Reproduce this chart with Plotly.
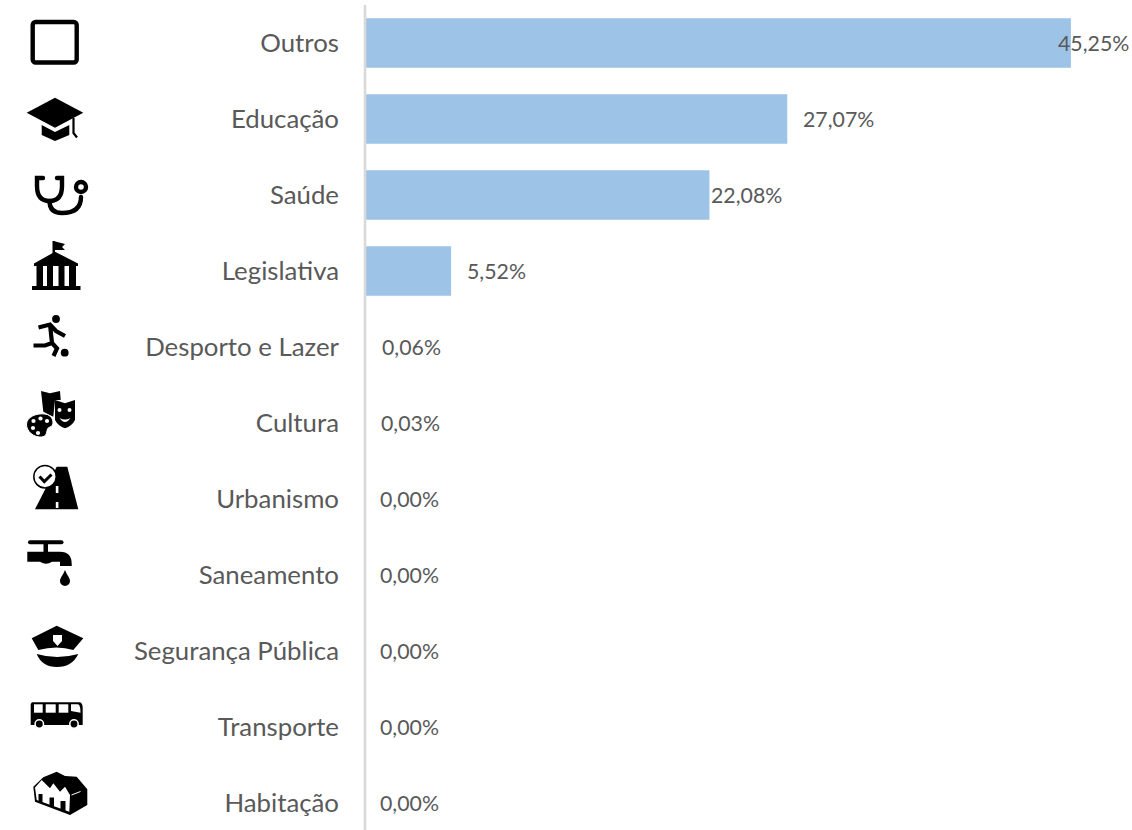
import base64
import plotly.graph_objects as go

categories = ["Outros", "Educação", "Saúde", "Legislativa", "Desporto e Lazer", "Cultura",
              "Urbanismo", "Saneamento", "Segurança Pública", "Transporte", "Habitação"]
values = [45.25, 27.07, 22.08, 5.52, 0.06, 0.03, 0.00, 0.00, 0.00, 0.00, 0.00]
value_labels = ["45,25%", "27,07%", "22,08%", "5,52%", "0,06%", "0,03%",
                "0,00%", "0,00%", "0,00%", "0,00%", "0,00%"]
label_shifts = [-13, 16, 2, 16, 16, 16, 15, 15, 15, 15, 15]

W, H = 1132, 830
ML, MT = 365, 5
PW, PH = W - ML, H - MT

TEXT = "#595959"
BAR = "#9DC3E6"
AXIS = "#D9D9D9"

icons_svg = f'''<svg xmlns="http://www.w3.org/2000/svg" width="{W}" height="{H}" viewBox="0 0 {W} {H}">
<!-- Outros -->
<rect x="32.7" y="22" width="44" height="40.5" rx="3" fill="none" stroke="#000" stroke-width="4.4"/>
<!-- Educacao -->
<path d="M26.7,112.7 L55,97.7 L83.3,112.7 L55,127.7 Z"/>
<path d="M41.7,125 L55,132 L69.3,125 V135 L55,141 L41.7,135 Z"/>
<path d="M73.5,118 V133 L77,137.5" fill="none" stroke="#000" stroke-width="2.2"/>
<!-- Saude -->
<g fill="none" stroke="#000" stroke-width="4.4" stroke-linecap="round">
<path d="M43,178 H37 V186 Q37,201 49.5,201 Q62,201 62,186 V178 H57"/>
<path d="M49.5,201 Q49.5,213 62,213 Q81,213 81,197"/>
<circle cx="81" cy="187" r="5"/>
</g>
<!-- Legislativa -->
<rect x="52.5" y="241" width="2.5" height="15"/>
<path d="M53.5,241 L65,244 L62,247 L65,250 L53.5,250 Z"/>
<path d="M34,263.5 L55,251.7 L78,263.5 V266 H34 Z"/>
<rect x="36.5" y="266" width="6.5" height="20"/><rect x="47" y="266" width="6" height="20"/>
<rect x="58.5" y="266" width="6" height="20"/><rect x="69" y="266" width="7" height="20"/>
<rect x="32" y="286" width="48.5" height="4"/>
<!-- Desporto -->
<circle cx="56" cy="319" r="3.9"/><circle cx="64.7" cy="352.7" r="3.9"/>
<path d="M38.5,327.5 L50,324.5 L56,331 L65,336 M50,324.5 L52,343 M52,343 L45,345.5 H33.5 M52,343 L57,348.5 L53.5,356" fill="none" stroke="#000" stroke-width="4.2"/>
<!-- Cultura -->
<path d="M41,391 L50,393.3 L60,391 L60.7,400 L55,400 L53.3,416.7 L43.3,411.7 Z"/>
<path d="M55,400 L65,403.3 L75,400 V420 Q72,426 65,428.3 Q58,426 55,420 Z"/>
<circle cx="59.5" cy="410" r="2" fill="#fff"/><circle cx="69.5" cy="410" r="2" fill="#fff"/>
<path d="M59.5,418 Q65,421 70.5,418 Q65,426 59.5,418 Z" fill="#fff"/>
<path d="M45,414 C54,415 55,426 50,427 C45,428 49,436 42,437 C34,438 26,431 26.5,424 C27,417 36,413 45,414 Z" stroke="#fff" stroke-width="1"/>
<circle cx="33.5" cy="421" r="2.1" fill="#fff"/><circle cx="40.5" cy="418.5" r="2.1" fill="#fff"/>
<circle cx="47" cy="421" r="2.1" fill="#fff"/><circle cx="33" cy="428" r="2.1" fill="#fff"/>
<circle cx="38" cy="433" r="2.1" fill="#fff"/>
<!-- Urbanismo -->
<path d="M56.7,466.7 H67.3 L78.3,509.3 H35 Z"/>
<rect x="55.8" y="486" width="2.6" height="7" fill="#fff"/><rect x="55.8" y="502" width="2.6" height="6" fill="#fff"/>
<circle cx="45" cy="476.7" r="11.2" fill="#fff" stroke="#000" stroke-width="1.5"/>
<path d="M39.5,476.5 L44.3,481.5 L51.5,474.5" fill="none" stroke="#000" stroke-width="3"/>
<!-- Saneamento -->
<path d="M30,542.3 H61.5" stroke="#000" stroke-width="4" stroke-linecap="round"/>
<rect x="43.5" y="542" width="4.5" height="11"/>
<path d="M27.3,551.7 H60 Q71.7,551.7 71.7,564 V566 H60 V561.7 H52 Q46,566 40,561.7 H27.3 Z"/>
<path d="M65,570 C67,575 70,578 70,581 A5,5 0 0 1 60,581 C60,578 63,575 65,570 Z"/>
<!-- Seguranca -->
<path d="M31.7,638.3 L56.7,625.7 L83.3,638.3 L73.3,650 Q57,645 38.3,650 Z"/>
<path d="M53,635 H62 V641 L57.5,646 L53,641 Z" fill="#fff"/>
<path d="M36.7,654 Q57,660 78.3,654 Q72,667 57,667 Q42,667 36.7,654 Z"/>
<!-- Transporte -->
<path d="M32,702.3 H79 Q82.7,702.3 82.7,708 V725 H30.7 V704 Z"/>
<rect x="34" y="704.3" width="8.7" height="8.4" fill="#fff"/><rect x="45.7" y="704.3" width="10" height="8.4" fill="#fff"/>
<rect x="58.7" y="704.3" width="9.6" height="8.4" fill="#fff"/><path d="M71,704.3 H78 Q80.5,705 80.5,712.7 L71,711 Z" fill="#fff"/>
<circle cx="39.3" cy="724" r="4.2" stroke="#fff" stroke-width="1.5"/><circle cx="74" cy="724" r="4.2" stroke="#fff" stroke-width="1.5"/>
<!-- Habitacao -->
<path d="M33.3,786.7 L35,801.7 L70,815 L87.3,805 V789.3 L76.7,776.7 L65,776 L56.7,771.7 L43.3,777.3 Z"/>
<path d="M35,787.5 L41.7,780 L50,788.3 L53.3,783.3 L60,791.7 L65,786.7 L70,795 L69.3,811.7 L36.7,800 Z" fill="#fff"/>
<rect x="38.5" y="794" width="4" height="8.5"/><rect x="49.5" y="797.5" width="4.5" height="9"/><rect x="60.5" y="801" width="5" height="10"/>
<path d="M71.5,795 L80.5,791.5" stroke="#fff" stroke-width="1"/>
</svg>'''
icons_uri = "data:image/svg+xml;base64," + base64.b64encode(icons_svg.encode()).decode()

fig = go.Figure(go.Bar(
    y=categories, x=values, orientation="h",
    marker=dict(color=BAR, line=dict(width=0)), hoverinfo="skip",
))

for cat, val, lab, shift in zip(categories, values, value_labels, label_shifts):
    fig.add_annotation(x=val, y=cat, text=lab, showarrow=False, xanchor="left", yanchor="middle",
                       xshift=shift, font=dict(family="Lato", size=21.3, color=TEXT), borderpad=0, borderwidth=0)

fig.add_layout_image(dict(
    source=icons_uri, xref="paper", yref="paper", x=-ML / PW, y=1 + MT / PH,
    sizex=W / PW, sizey=H / PH, xanchor="left", yanchor="top", sizing="stretch", layer="above",
))

# category axis line, drawn centred on the zero of the value axis
fig.add_shape(type="line", xref="paper", yref="paper", x0=0, x1=0, y0=0, y1=1,
              line=dict(color=AXIS, width=2.6), layer="above")

fig.update_layout(
    width=W, height=H, autosize=False,
    margin=dict(l=ML, r=0, t=MT, b=0, pad=0),
    paper_bgcolor="white", plot_bgcolor="white",
    bargap=0.35, showlegend=False,
    xaxis=dict(range=[0, PW / 15.6], visible=False, fixedrange=True),
    yaxis=dict(
        type="category", categoryorder="array", categoryarray=categories,
        range=[-0.5 + PH / 76, -0.5], showgrid=False, zeroline=False,
        showline=False, ticks="", ticklabelstandoff=25,
        tickfont=dict(family="Lato", size=25.8, color=TEXT), fixedrange=True,
    ),
)

fig.write_html("out.html", config={"displayModeBar": False},
               post_script="document.body.style.margin='0';")
